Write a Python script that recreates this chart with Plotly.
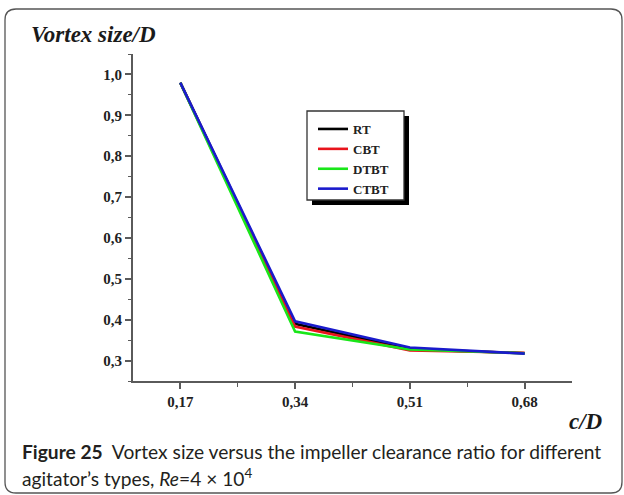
import plotly.graph_objects as go

# ---- data ----
clearance = [0.17, 0.34, 0.51, 0.68]
series_names = ["RT", "CBT", "DTBT", "CTBT"]
rt = [0.98, 0.390, 0.328, 0.318]
cbt = [0.98, 0.383, 0.325, 0.319]
dtbt = [0.98, 0.371, 0.327, 0.318]
ctbt = [0.98, 0.396, 0.332, 0.317]
series_colors = ["#000000", "#e8141c", "#19e619", "#1a1acc"]

x_tickvals = [0.17, 0.34, 0.51, 0.68]
x_ticktext = ["0,17", "0,34", "0,51", "0,68"]
y_tickvals = [0.3, 0.4, 0.5, 0.6, 0.7, 0.8, 0.9, 1.0]
y_ticktext = ["0,3", "0,4", "0,5", "0,6", "0,7", "0,8", "0,9", "1,0"]
x_minor = [0.255, 0.425, 0.595]
y_minor = [0.25, 0.35, 0.45, 0.55, 0.65, 0.75, 0.85, 0.95, 1.05]

# ---- layout geometry (pixels) ----
FW, FH = 624, 495
L, R, T, B = 133, 52, 54, 114
PW, PH = FW - L - R, FH - T - B


def fx(px):
    return (px - L) / PW


def fy(py):
    return (FH - B - py) / PH


fig = go.Figure()
for name, vals, col in zip(series_names, [rt, cbt, dtbt, ctbt], series_colors):
    fig.add_trace(go.Scatter(x=clearance, y=vals, mode="lines", name=name,
                             line=dict(color=col, width=2.6)))

axis_col = "#5a5a5a"
tickfont = dict(family="Liberation Serif", size=15, color="#222222", weight="bold")

fig.update_layout(
    width=FW, height=FH,
    margin=dict(l=L, r=R, t=T, b=B),
    paper_bgcolor="white", plot_bgcolor="white",
    xaxis=dict(range=[0.1, 0.75], tickmode="array", tickvals=x_tickvals,
               ticktext=x_ticktext,
               ticks="outside", ticklen=6, tickwidth=1.5, tickcolor=axis_col,
               showline=True, linecolor=axis_col, linewidth=2,
               showgrid=False, zeroline=False, tickfont=tickfont,
               minor=dict(tickmode="array", tickvals=x_minor, ticks="outside",
                          ticklen=4, tickwidth=1.3, tickcolor=axis_col, showgrid=False)),
    yaxis=dict(range=[0.25, 1.05], tickmode="array", tickvals=y_tickvals,
               ticktext=y_ticktext,
               ticks="outside", ticklen=6, tickwidth=1.5, tickcolor=axis_col,
               showline=True, linecolor=axis_col, linewidth=2,
               showgrid=False, zeroline=False, tickfont=tickfont,
               minor=dict(tickmode="array", tickvals=y_minor, ticks="outside",
                          ticklen=3, tickwidth=1.3, tickcolor=axis_col, showgrid=False)),
    xaxis2=dict(range=[0.1, 0.75], overlaying="x", side="top", anchor="y",
                tickmode="array", tickvals=x_tickvals, showticklabels=False,
                ticks="inside", ticklen=4, tickwidth=1.5, tickcolor=axis_col,
                showline=True, linecolor=axis_col, linewidth=2,
                showgrid=False, zeroline=False,
                minor=dict(tickmode="array", tickvals=x_minor, ticks="inside",
                           ticklen=3, tickwidth=1.3, tickcolor=axis_col, showgrid=False)),
    yaxis2=dict(range=[0.25, 1.05], overlaying="y", side="right", anchor="x",
                tickmode="array", tickvals=y_tickvals, showticklabels=False,
                ticks="inside", ticklen=6, tickwidth=1.5, tickcolor=axis_col,
                showline=True, linecolor=axis_col, linewidth=2,
                showgrid=False, zeroline=False,
                minor=dict(tickmode="array", tickvals=y_minor, ticks="inside",
                           ticklen=3, tickwidth=1.3, tickcolor=axis_col, showgrid=False)),
    showlegend=True,
    legend=dict(x=fx(313), y=fy(114), xanchor="left", yanchor="top",
                bgcolor="rgba(0,0,0,0)", borderwidth=0,
                font=dict(family="Liberation Serif", size=13, color="#222222",
                          weight="bold"),
                itemwidth=30),
)

# legend frame with drop shadow
fig.add_shape(type="rect", xref="paper", yref="paper", layer="above",
              x0=fx(312), x1=fx(409), y0=fy(205), y1=fy(116),
              fillcolor="black", line=dict(width=0))
fig.add_shape(type="rect", xref="paper", yref="paper", layer="above",
              x0=fx(307), x1=fx(404), y0=fy(200), y1=fy(111),
              fillcolor="white", line=dict(color="#333333", width=1.3))

# outer rounded frame
x0, x1, y0, y1, rr = 5, 622, 9, 493, 11
path = (f"M {fx(x0 + rr)} {fy(y0)} L {fx(x1 - rr)} {fy(y0)} "
        f"Q {fx(x1)} {fy(y0)} {fx(x1)} {fy(y0 + rr)} "
        f"L {fx(x1)} {fy(y1 - rr)} Q {fx(x1)} {fy(y1)} {fx(x1 - rr)} {fy(y1)} "
        f"L {fx(x0 + rr)} {fy(y1)} Q {fx(x0)} {fy(y1)} {fx(x0)} {fy(y1 - rr)} "
        f"L {fx(x0)} {fy(y0 + rr)} Q {fx(x0)} {fy(y0)} {fx(x0 + rr)} {fy(y0)} Z")
fig.add_shape(type="path", path=path, xref="paper", yref="paper",
              line=dict(color="#555555", width=1.3))

# axis titles
titlefont = dict(family="Liberation Serif", size=23, color="#1a1a1a")
fig.add_annotation(xref="paper", yref="paper", x=fx(29), y=fy(35),
                   xanchor="left", yanchor="middle", showarrow=False,
                   text="<b><i>Vortex size/D</i></b>", font=titlefont)
fig.add_annotation(xref="paper", yref="paper", x=fx(605), y=fy(421),
                   xanchor="right", yanchor="middle", showarrow=False,
                   text="<b><i>c/D</i></b>", font=titlefont)

# caption
capfont = dict(family="Lato", size=19.2, color="#231f20")
fig.add_annotation(xref="paper", yref="paper", x=fx(20), y=fy(451),
                   xanchor="left", yanchor="middle", showarrow=False,
                   text="<b>Figure 25</b>&nbsp;&nbsp;Vortex size versus the impeller clearance ratio for different",
                   font=capfont)
fig.add_annotation(xref="paper", yref="paper", x=fx(20), y=fy(477),
                   xanchor="left", yanchor="middle", showarrow=False,
                   text="agitator\u2019s types, <i>Re</i>=4 \u00d7 10<sup>4</sup>",
                   font=capfont)

fig.write_html("out.html")
